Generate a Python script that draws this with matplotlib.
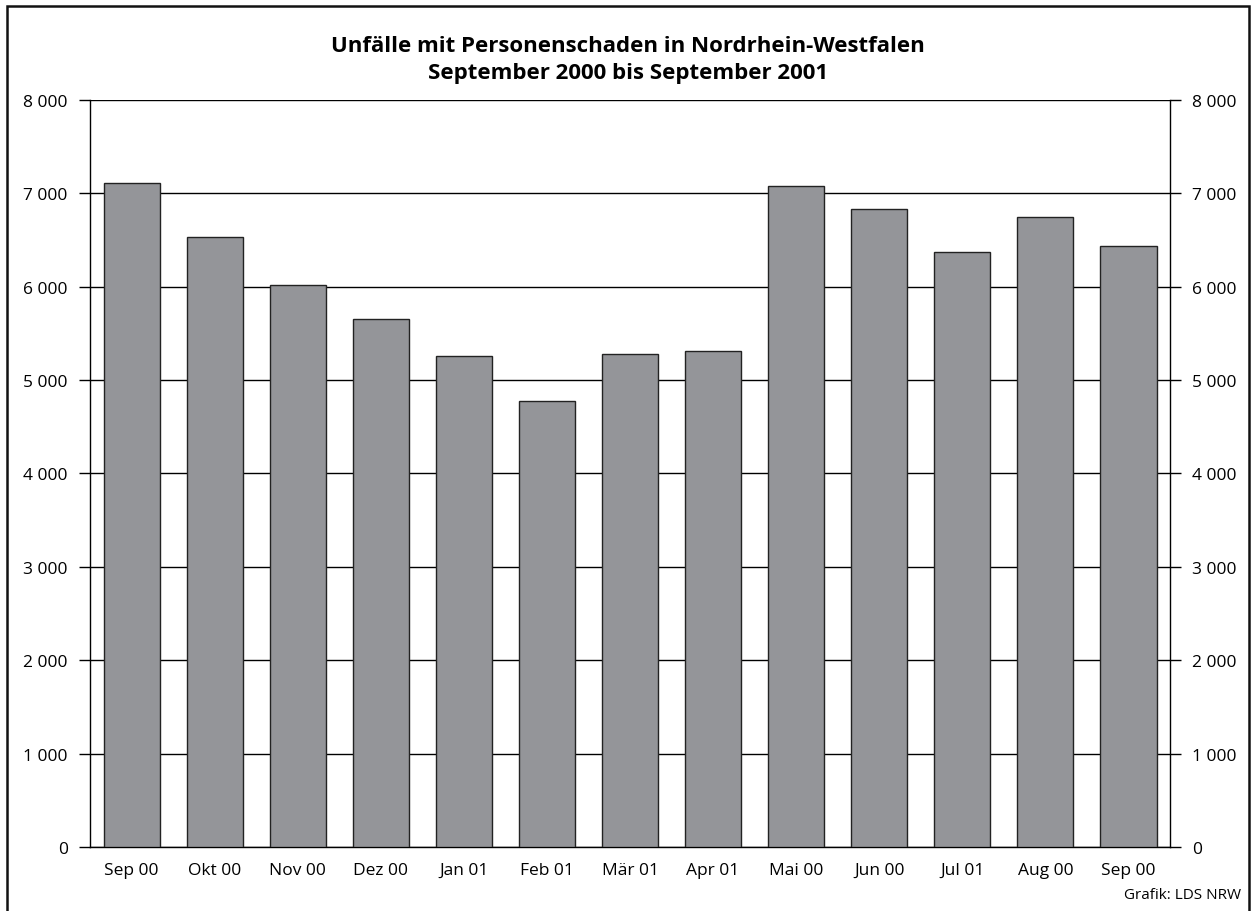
import matplotlib
matplotlib.use("Agg")
import matplotlib.pyplot as plt
from matplotlib.patches import Rectangle
from matplotlib.ticker import FuncFormatter
import numpy as np

plt.rcParams['font.family'] = ['Open Sans', 'DejaVu Sans']

# data
months = ["Sep 00", "Okt 00", "Nov 00", "Dez 00", "Jan 01", "Feb 01", "Mär 01",
          "Apr 01", "Mai 00", "Jun 00", "Jul 01", "Aug 00", "Sep 00"]
accidents = [7110, 6525, 6014, 5649, 5260, 4772, 5275, 5310, 7075, 6831, 6374, 6749, 6438]
yticks = [0, 1000, 2000, 3000, 4000, 5000, 6000, 7000, 8000]

W, H = 1256, 912
fig = plt.figure(figsize=(W / 100, H / 100), dpi=100)
ax = fig.add_axes([90 / W, 1 - 848 / H, 1080 / W, (848 - 100.7) / H])

x = np.arange(len(months))
ax.set_axisbelow(True)
ax.grid(True, axis='y', color='black', linewidth=1.0)
ax.bar(x, accidents, width=0.675, color='#949599', edgecolor='#222222', linewidth=1.0, zorder=3)

ax.set_xlim(-0.5, len(months) - 0.5)
ax.set_ylim(0, 8000)
ax.set_yticks(yticks)
fmt = FuncFormatter(lambda v, p: f"{int(v):,}".replace(",", " "))
ax.yaxis.set_major_formatter(fmt)
ax.set_xticks(x)
ax.set_xticklabels(months)
ax.tick_params(axis='x', length=0, pad=11, labelsize=12.5)
ax.tick_params(axis='y', length=8, width=1.0, labelsize=12.5, pad=8,
               left=True, right=True, labelleft=True, labelright=True)
ax.spines['top'].set_visible(False)
for s in ['left', 'right', 'bottom']:
    ax.spines[s].set_linewidth(1.0)

fig.text(0.5, 1 - 47 / H, "Unfälle mit Personenschaden in Nordrhein-Westfalen",
         ha='center', va='center', fontsize=16, fontweight='bold')
fig.text(0.5, 1 - 73 / H, "September 2000 bis September 2001",
         ha='center', va='center', fontsize=16, fontweight='bold')
fig.text(1241 / W, 1 - 896 / H, "Grafik: LDS NRW", ha='right', va='center', fontsize=11)

fig.patches.append(Rectangle((7 / W, -0.01), (1249 - 7) / W, 1 - 7 / H + 0.01,
                             transform=fig.transFigure, fill=False,
                             edgecolor='#111111', linewidth=1.8))

fig.savefig("out.png", dpi=100)
